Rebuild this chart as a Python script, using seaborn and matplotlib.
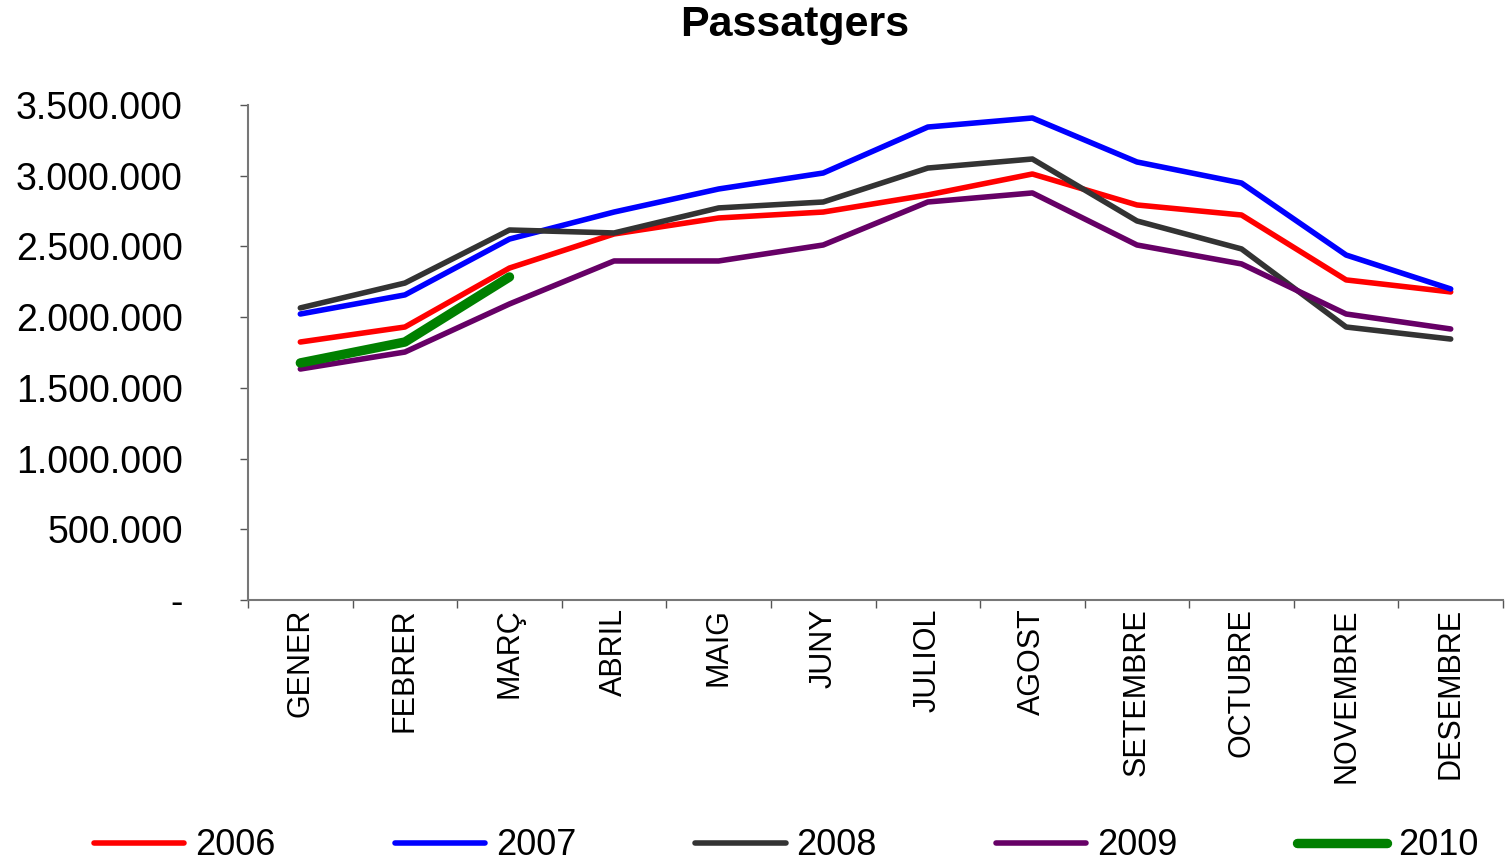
import matplotlib
matplotlib.use("Agg")
import matplotlib.pyplot as plt
import numpy as np
import pandas as pd
import seaborn as sns
from matplotlib.ticker import FuncFormatter, FixedLocator

mesos = ["GENER", "FEBRER", "MARÇ", "ABRIL", "MAIG", "JUNY", "JULIOL",
         "AGOST", "SETEMBRE", "OCTUBRE", "NOVEMBRE", "DESEMBRE"]

pax_2006 = [1824000, 1930000, 2347000, 2588000, 2701000, 2743000,
            2864000, 3012000, 2793000, 2722000, 2263000, 2178000]
pax_2007 = [2022000, 2157000, 2552000, 2743000, 2906000, 3019000,
            3344000, 3408000, 3097000, 2948000, 2439000, 2199000]
pax_2008 = [2065000, 2241000, 2616000, 2595000, 2772000, 2814000,
            3054000, 3118000, 2680000, 2482000, 1930000, 1845000]
pax_2009 = [1633000, 1753000, 2093000, 2397000, 2397000, 2510000,
            2814000, 2878000, 2510000, 2376000, 2022000, 1916000]
pax_2010 = [1676000, 1824000, 2284000]

series = {"2006": pax_2006, "2007": pax_2007, "2008": pax_2008,
          "2009": pax_2009, "2010": pax_2010}
colors = {"2006": "#FF0000", "2007": "#0000FF", "2008": "#333333",
          "2009": "#660066", "2010": "#008000"}
widths = {"2006": 4.0, "2007": 4.0, "2008": 4.0, "2009": 4.0, "2010": 6.8}

rows = []
for year, vals in series.items():
    for i, v in enumerate(vals):
        rows.append({"any": year, "pos": i, "passatgers": v})
df = pd.DataFrame(rows)

sns.set_style("white")
plt.rcParams['font.family'] = ['Liberation Sans', 'DejaVu Sans']
plt.rcParams['text.color'] = 'black'
plt.rcParams['xtick.color'] = 'black'
plt.rcParams['ytick.color'] = 'black'

fig = plt.figure(figsize=(15.06, 8.64), dpi=100)
ax = fig.add_axes([0.1647, 0.3056, 0.8333, 0.5729])

sns.lineplot(data=df, x="pos", y="passatgers", hue="any", size="any",
             palette=colors, sizes=widths, ax=ax, legend=False,
             solid_capstyle="round")

ax.set_xlim(-0.5, 11.5)
ax.set_ylim(0, 3500000)
ax.set_xlabel("")
ax.set_ylabel("")

ax.yaxis.set_major_locator(FixedLocator(np.arange(0, 3500001, 500000)))
ax.yaxis.set_major_formatter(FuncFormatter(
    lambda v, p: "-" if v == 0 else f"{int(v):,}".replace(",", ".")))
ax.set_xticks(range(12))
ax.set_xticklabels(mesos, rotation=90, fontsize=22)
ax.xaxis.set_minor_locator(FixedLocator(np.arange(-0.5, 12, 1)))
ax.tick_params(axis="x", which="major", length=0, pad=6)
ax.tick_params(axis="x", which="minor", length=6, width=1, color="#555555",
               direction="out", bottom=True)
ax.tick_params(axis="y", labelsize=27, length=6, width=1, color="#555555",
               direction="out", left=True, pad=41)

sns.despine(ax=ax)
for s in ["left", "bottom"]:
    ax.spines[s].set_color("#777777")
    ax.spines[s].set_linewidth(1.5)

fig.text(795 / 1506, 1 - 25 / 864, "Passatgers", ha="center", va="center",
         fontsize=31, fontweight="bold")

handles = [plt.Line2D([], [], color=colors[y], lw=widths[y],
                      solid_capstyle="round") for y in series]
fig.legend(handles, list(series.keys()), loc="lower center", ncol=5,
           bbox_to_anchor=(786 / 1506, -0.037), frameon=False, fontsize=26,
           handlelength=2.5, columnspacing=3.3, handletextpad=0.3)

fig.savefig("out.png", dpi=100)
